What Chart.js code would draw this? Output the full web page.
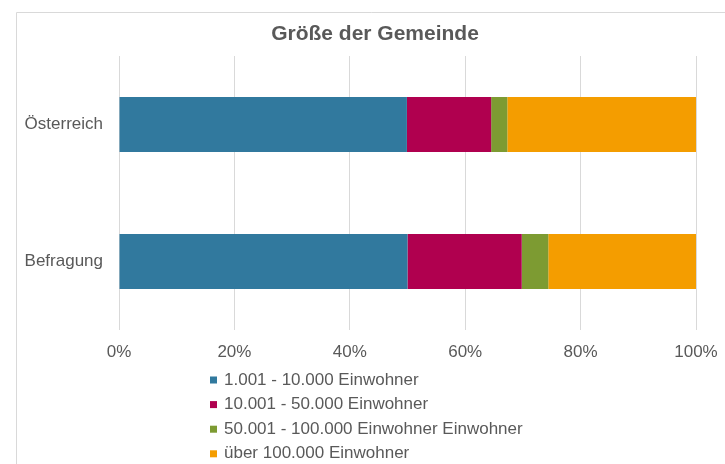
<!DOCTYPE html>
<html>
<head>
<meta charset="utf-8">
<script src="https://cdn.jsdelivr.net/npm/chart.js@4/dist/chart.umd.min.js"></script>
<style>
  html, body { margin: 0; padding: 0; background: #fff; }
  #wrap { width: 725px; height: 464px; position: relative; }
</style>
</head>
<body>
<div id="wrap"><canvas id="myChart" width="725" height="464"></canvas></div>
<script>
// categories and shares (percent of municipalities)
const categories = ['Österreich', 'Befragung'];
const seriesNames = [
  '1.001 - 10.000 Einwohner',
  '10.001 - 50.000 Einwohner',
  '50.001 - 100.000 Einwohner Einwohner',
  'über 100.000 Einwohner'
];
const small = [49.9, 50.0];
const medium = [14.6, 19.8];
const large = [2.8, 4.6];
const big = [32.7, 25.6];
const colors = ['#31799e', '#b0004f', '#7d9b32', '#f49d00'];
const chartTitle = 'Größe der Gemeinde';

const textColor = '#595959';
const fontFamily = '"Liberation Sans", Arial, sans-serif';

// frame, title and legend list below the chart
const extras = {
  id: 'extras',
  beforeDraw(chart) {
    const ctx = chart.ctx;
    ctx.save();
    ctx.strokeStyle = '#d9d9d9';
    ctx.lineWidth = 1;
    ctx.beginPath();
    ctx.moveTo(16.5, 470);
    ctx.lineTo(16.5, 12.5);
    ctx.lineTo(730, 12.5);
    ctx.stroke();
    ctx.restore();
  },
  afterDraw(chart) {
    const ctx = chart.ctx;
    ctx.save();
    ctx.fillStyle = textColor;
    ctx.font = 'bold 21px ' + fontFamily;
    ctx.textAlign = 'center';
    ctx.textBaseline = 'alphabetic';
    ctx.fillText(chartTitle, 375, 40);

    ctx.textAlign = 'left';
    ctx.font = '17px ' + fontFamily;
    ctx.textBaseline = 'middle';
    chart.data.datasets.forEach((ds, i) => {
      const y = 380 + i * 24.6;
      ctx.fillStyle = ds.backgroundColor;
      ctx.fillRect(210, y - 3.5, 7, 7);
      ctx.fillStyle = textColor;
      ctx.fillText(ds.label, 224, y);
    });
    ctx.restore();
  }
};

const values = [small, medium, large, big];

new Chart(document.getElementById('myChart'), {
  type: 'bar',
  data: {
    labels: categories,
    datasets: seriesNames.map((name, i) => ({
      label: name,
      data: values[i],
      backgroundColor: colors[i],
      borderWidth: 0,
      categoryPercentage: 1,
      barPercentage: 0.4
    }))
  },
  options: {
    indexAxis: 'y',
    responsive: false,
    animation: false,
    layout: { padding: { left: 0, right: 29, top: 56, bottom: 99 } },
    plugins: {
      legend: { display: false },
      tooltip: { enabled: false },
      title: { display: false }
    },
    scales: {
      x: {
        stacked: true,
        min: 0,
        max: 100,
        border: { display: false },
        grid: { color: '#d9d9d9', drawTicks: false },
        ticks: {
          stepSize: 20,
          color: textColor,
          font: { family: fontFamily, size: 17 },
          padding: 12,
          callback: v => v + '%'
        },
        afterFit(scale) {
          scale.height = 35;
          scale.paddingLeft = 0;
          scale.paddingRight = 0;
        }
      },
      y: {
        stacked: true,
        border: { display: false },
        grid: { display: false, drawTicks: false },
        ticks: {
          color: textColor,
          font: { family: fontFamily, size: 17 },
          padding: 16
        },
        afterFit(scale) { scale.width = 119; }
      }
    }
  },
  plugins: [extras]
});
</script>
</body>
</html>
